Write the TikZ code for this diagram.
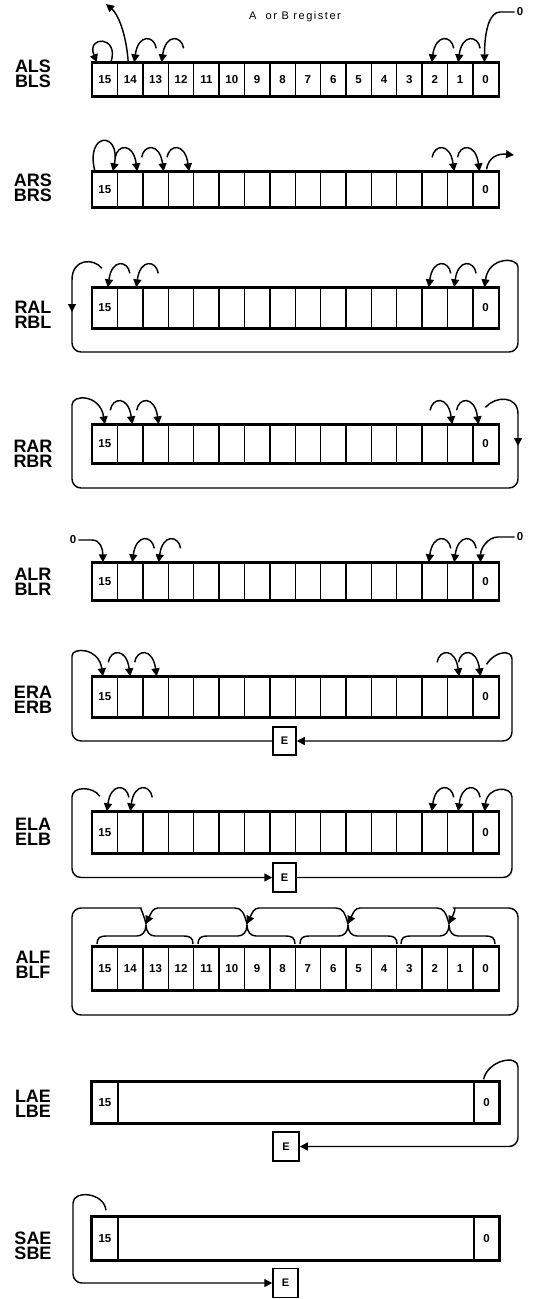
\documentclass[tikz,border=0pt]{standalone}
\usepackage{fontspec}
\setmainfont{Liberation Sans}
\usetikzlibrary{arrows.meta,calc}
\tikzset{
  cellbox/.style={draw, line width=1.35pt, inner sep=0pt, minimum width=25.375pt, font=\fontsize{11.5}{12}\selectfont\bfseries},
  boldcell/.style={cellbox, font=\fontsize{11.5}{12}\selectfont\bfseries},
  regframe/.style={draw, line width=1.8pt},
  ln/.style={line width=1.45pt},
  arr/.style={line width=1.45pt, -{Triangle[length=8pt,width=8pt]}},
  loopln/.style={line width=1.45pt, rounded corners=9pt},
  oplabel/.style={align=center, font=\fontsize{18}{15.5}\selectfont\bfseries, inner sep=0pt},
  ebox/.style={draw, line width=1.5pt, inner sep=0pt, font=\fontsize{11}{12}\selectfont\bfseries},
  smalltxt/.style={inner sep=0pt, font=\fontsize{11.5}{12}\selectfont\bfseries},
}
\newcommand{\regrow}[4]{%
  \foreach \i in {0,...,15} {
    \node[cellbox, minimum height=#3pt-#2pt] (#1c\i) at ({92.2+(15-\i+0.5)*25.375}, {-(#2+#3)/2})
      {\ifnum#4=1 \i\else\ifnum\i=15 15\else\ifnum\i=0 0\fi\fi\fi};
  }
  \draw[regframe] (#1c15.north west) rectangle (#1c0.south east);
}
\newcommand{\larc}[2]{\draw[arr] ($(#1.north)+(#2+22,14)$) .. controls ($(#1.north)+(#2+20,27)$) and ($(#1.north)+(#2+4,29)$) .. ($(#1.north)+(#2,0)$);}
\newcommand{\rarc}[2]{\draw[arr] ($(#1.north)+(#2-22,14)$) .. controls ($(#1.north)+(#2-20,27)$) and ($(#1.north)+(#2-4,29)$) .. ($(#1.north)+(#2,0)$);}
\newcommand{\grpbrace}[3]{% left, centre, right
  \draw[ln] (#1,-944) .. controls (#1,-938) and (#1+3,-936) .. (#1+9,-936) -- (#2-9,-936) .. controls (#2-4,-936) and (#2,-932) .. (#2,-925)
    .. controls (#2,-932) and (#2+4,-936) .. (#2+9,-936) -- (#3-9,-936) .. controls (#3-3,-936) and (#3,-938) .. (#3,-944);}
\newcommand{\grparrow}[2]{% from V at #1 to V at #2 (leftwards)
  \draw[arr] (#1,-924) .. controls (#1-3,-912) and (#1-6,-908) .. (#1-12,-908) -- (#2+12,-908) .. controls (#2+7,-908) and (#2+5,-913) .. (#2,-924);}
\begin{document}
\begin{tikzpicture}[x=1pt,y=1pt]
\useasboundingbox (0,0) rectangle (545,-1299);

% ---------- Row 1: ALS ----------
\node[font=\fontsize{11}{12}\selectfont\addfontfeatures{LetterSpace=14}, inner sep=0pt] (title) at (295,-17) {A\ \ or B register};
\node[oplabel] (l1) at (33,-74) {ALS\\BLS};
\regrow{r1}{63}{96}{1}
\draw[arr] ($(r1c15.north)+(6,0)$) .. controls ($(r1c15.north)+(15,27)$) and ($(r1c15.north)+(-19,27)$) .. ($(r1c15.north)+(-8,0)$);
\draw[arr] ($(r1c14.north)+(-2,0)$) .. controls ($(r1c14.north)+(-4,28)$) and ($(r1c14.north)+(-12,48)$) .. (106,-4);
\larc{r1c14}{4}
\larc{r1c13}{6}
\larc{r1c2}{-3}
\larc{r1c1}{-2}
\node[smalltxt] (z1) at (520,-12) {0};
\draw[arr] ($(z1.west)+(-2,0)$) -- (500,-12) .. controls (489,-12) and ($(r1c0.north)+(-1,30)$) .. ($(r1c0.north)+(-1,0)$);

% ---------- Row 2: ARS ----------
\node[oplabel] (l2) at (33,-188) {ARS\\BRS};
\regrow{r2}{172}{207}{0}
\draw[arr] ($(r2c15.north)+(-10,0)$) .. controls ($(r2c15.north)+(-20,40)$) and ($(r2c15.north)+(16,40)$) .. ($(r2c15.north)+(8,0)$);
\rarc{r2c14}{7}
\rarc{r2c13}{8}
\rarc{r2c12}{8}
\rarc{r2c1}{-6}
\rarc{r2c0}{-6}
\draw[arr] ($(r2c0.north)+(1,2)$) .. controls ($(r2c0.north)+(3,14)$) and ($(r2c0.north)+(12,18)$) .. (514,-155);

% ---------- Row 3: RAL ----------
\node[oplabel] (l3) at (33,-315) {RAL\\RBL};
\regrow{r3}{288}{328}{0}
\larc{r3c15}{3}
\larc{r3c14}{6}
\larc{r3c2}{-6}
\larc{r3c1}{-6}
\draw[arr] ($(r3c15.north)+(-3,19)$) .. controls (94,-258) and (72,-258) .. (72,-280) -- (72,-312);
\draw[loopln,arr] (72,-308) -- (72,-352) -- (518,-352) -- (518,-276) .. controls (518,-257) and ($(r3c0.north)+(3,31)$) .. ($(r3c0.north)+(-1,0)$);

% ---------- Row 4: RAR ----------
\node[oplabel] (l4) at (33,-454) {RAR\\RBR};
\regrow{r4}{425}{463}{0}
\rarc{r4c14}{2}
\rarc{r4c13}{3}
\rarc{r4c1}{-8}
\rarc{r4c0}{-7}
\draw[arr] ($(r4c0.north)+(0,17)$) .. controls (495,-396) and (518,-395) .. (518,-414) -- (518,-446);
\draw[loopln,arr] (518,-442) -- (518,-488) -- (72,-488) -- (72,-414) .. controls (72,-394) and (100,-394) .. (r4c15.north);

% ---------- Row 5: ALR ----------
\node[oplabel] (l5) at (33,-582) {ALR\\BLR};
\regrow{r5}{563}{600}{0}
\node[smalltxt] (z5a) at (73,-540) {0};
\draw[arr] ($(z5a.east)+(2,0)$) -- (92,-540) .. controls (100,-540) and ($(r5c15.north)+(-2,14)$) .. ($(r5c15.north)+(-2,0)$);
\larc{r5c14}{2}
\larc{r5c13}{3}
\larc{r5c2}{-6}
\larc{r5c1}{-6}
\node[smalltxt] (z5b) at (520,-537) {0};
\draw[arr] ($(z5b.west)+(-2,0)$) -- (498,-537) .. controls (488,-537) and ($(r5c0.north)+(-5,14)$) .. ($(r5c0.north)+(-5,0)$);

% ---------- Row 6: ERA ----------
\node[oplabel] (l6) at (33,-700) {ERA\\ERB};
\regrow{r6}{677}{717}{0}
\rarc{r6c14}{0}
\rarc{r6c13}{1}
\rarc{r6c1}{-1}
\rarc{r6c0}{-5}
\node[ebox, minimum width=23pt, minimum height=28pt] (e6) at (284.5,-741) {E};
\draw[loopln,arr] (e6.west) -- (72,-741) -- (72,-665) .. controls (72,-647) and ($(r6c15.north)+(-6,29)$) .. ($(r6c15.north)+(-2,0)$);
\draw[loopln,arr] ($(r6c0.north)+(1,12)$) .. controls (496,-650) and (512,-650) .. (512,-668) -- (512,-741) -- (e6.east);

% ---------- Row 7: ELA ----------
\node[oplabel] (l7) at (33,-832) {ELA\\ELB};
\regrow{r7}{812}{853}{0}
\larc{r7c15}{2}
\larc{r7c14}{0}
\larc{r7c2}{-3}
\larc{r7c1}{-2}
\node[ebox, minimum width=23pt, minimum height=29pt] (e7) at (284.5,-877.5) {E};
\draw[loopln,arr] ($(r7c15.north)+(-5,15)$) .. controls (93,-786) and (72,-786) .. (72,-806) -- (72,-877.5) -- (e7.west);
\draw[loopln,arr] (e7.east) -- (512,-877.5) -- (512,-806) .. controls (512,-786) and ($(r7c0.north)+(2,26)$) .. ($(r7c0.north)+(-1,0)$);

% ---------- Row 8: ALF ----------
\node[oplabel] (l8) at (33,-965) {ALF\\BLF};
\regrow{r8}{947}{990}{1}
\grpbrace{97}{146}{193}
\grpbrace{198}{247}{295}
\grpbrace{300}{348}{397}
\grpbrace{401}{449}{495}
\grparrow{247}{146}
\grparrow{348}{247}
\grparrow{449}{348}
\draw[loopln,arr] (146,-924) .. controls (143,-912) and (140,-908) .. (132,-908) -- (72,-908) -- (72,-1015) -- (518,-1015) -- (518,-908) -- (463,-908) .. controls (456,-908) and (454,-913) .. (449,-924);

% ---------- Row 9: LAE ----------
\node[oplabel] (l9) at (33,-1104) {LAE\\LBE};
\node[boldcell, minimum width=26pt, minimum height=41pt] (r9c15) at (105,-1102.5) {15};
\node[cellbox, minimum width=356pt, minimum height=41pt] (r9m) at (296,-1102.5) {};
\node[boldcell, minimum width=25pt, minimum height=41pt] (r9c0) at (486.5,-1102.5) {0};
\draw[regframe] (r9c15.north west) rectangle (r9c0.south east);
\node[ebox, minimum width=26pt, minimum height=29pt] (e9) at (286,-1146.5) {E};
\draw[loopln,arr] ($(r9c0.north)+(-3,2)$) .. controls (488,-1060) and (518,-1054) .. (518,-1076) -- (518,-1146.5) -- (e9.east);

% ---------- Row 10: SAE ----------
\node[oplabel] (l10) at (33,-1246) {SAE\\SBE};
\node[boldcell, minimum width=26pt, minimum height=43pt] (r10c15) at (105,-1238.5) {15};
\node[cellbox, minimum width=356pt, minimum height=43pt] (r10m) at (296,-1238.5) {};
\node[boldcell, minimum width=25pt, minimum height=43pt] (r10c0) at (486.5,-1238.5) {0};
\draw[regframe] (r10c15.north west) rectangle (r10c0.south east);
\node[ebox, minimum width=25pt, minimum height=29pt] (e10) at (285.5,-1283) {E};
\draw[loopln,arr] ($(r10c15.north)+(1,6)$) .. controls (104,-1192) and (73,-1190) .. (73,-1212) -- (73,-1283) -- (e10.west);
\end{tikzpicture}
\end{document}
